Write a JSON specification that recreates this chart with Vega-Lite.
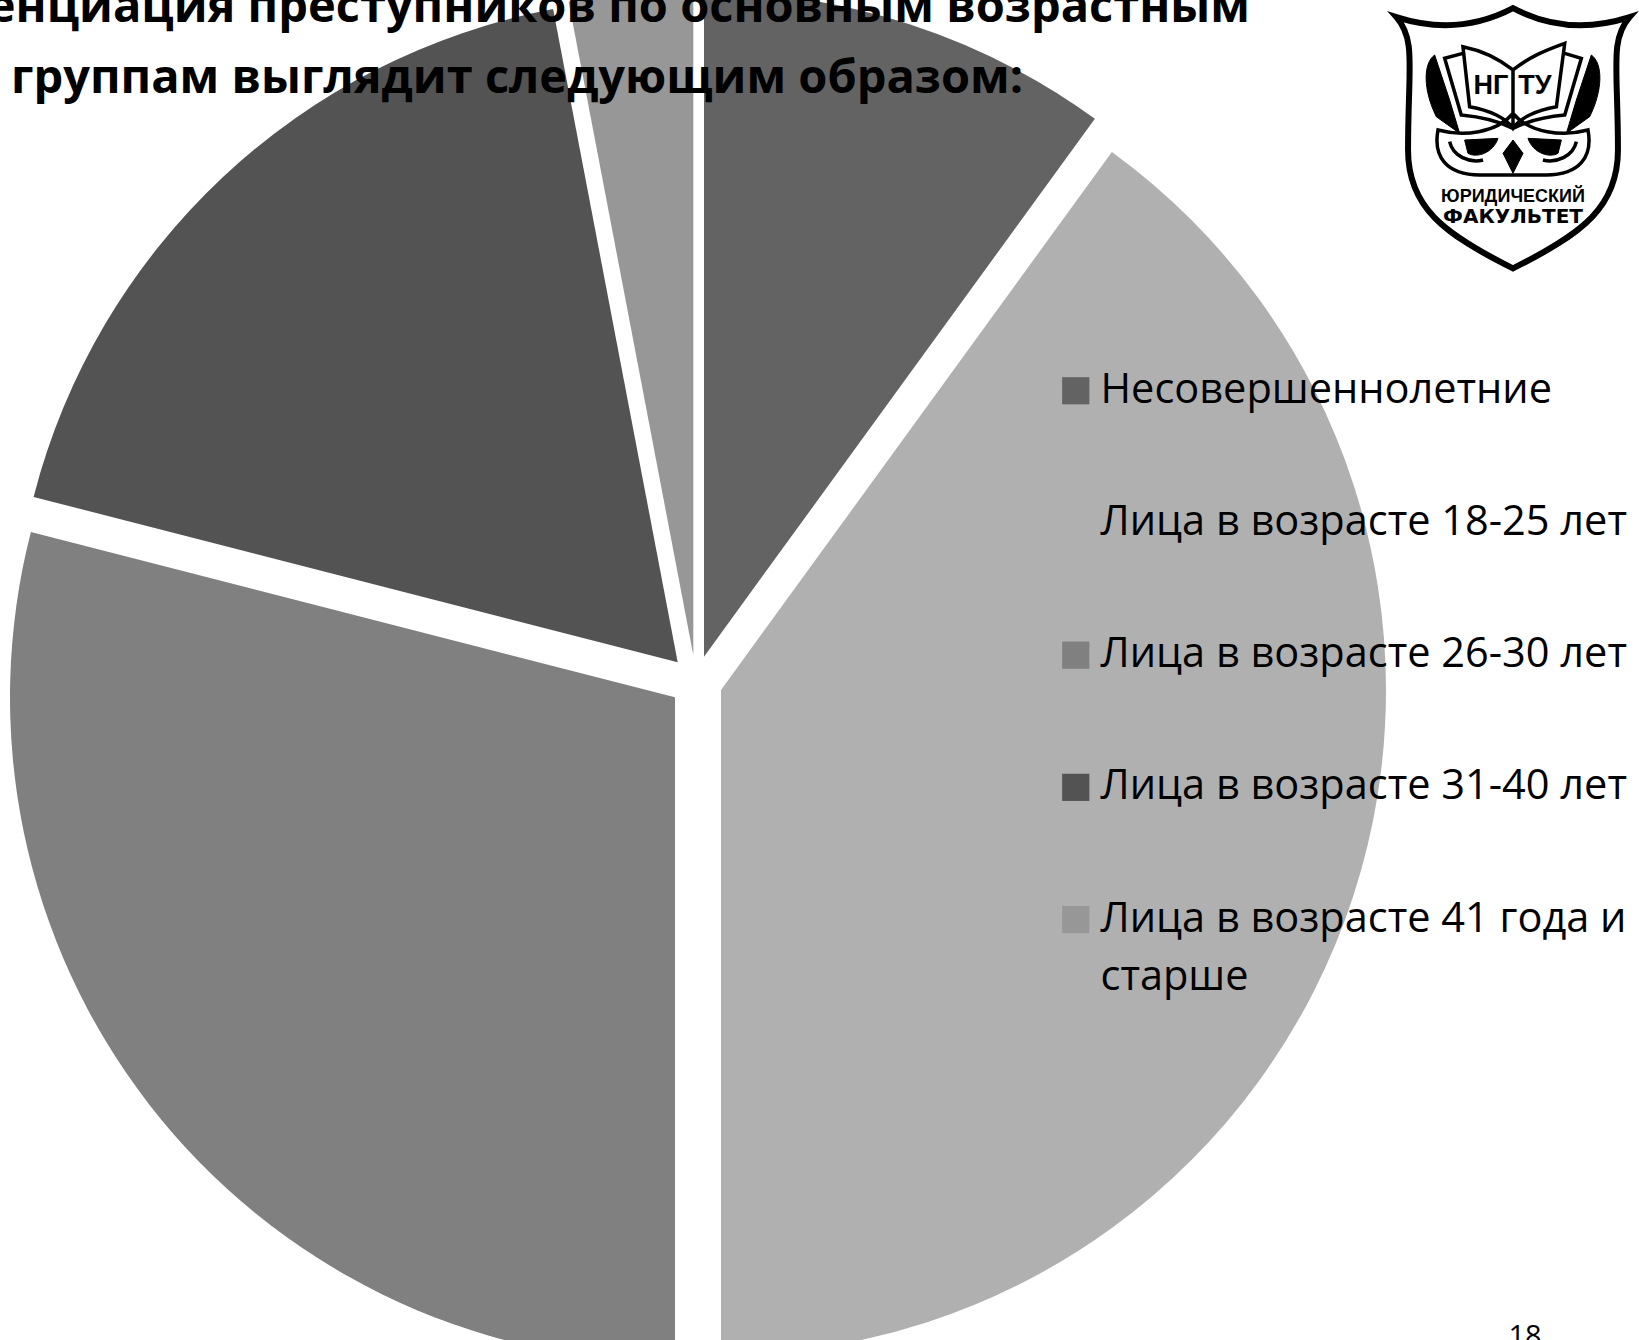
{"$schema":"https://vega.github.io/schema/vega-lite/v6.json","width":1639,"height":1340,"padding":0,"autosize":"none","background":"white","view":{"stroke":null},
"title":{"text":["Дифференциация преступников по основным возрастным","группам выглядит следующим образом:"],"anchor":"start","align":"center","baseline":"top","dx":517,"dy":113,"offset":0,"zindex":1,"font":"Open Sans","fontWeight":"bold","fontSize":47,"lineHeight":71,"color":"black"},
"data":{"values":[{"group":"Несовершеннолетние","share":10},{"group":"Лица в возрасте 18-25 лет","share":40},{"group":"Лица в возрасте 26-30 лет","share":29},{"group":"Лица в возрасте 31-40 лет","share":18},{"group":"Лица в возрасте 41 года и старше","share":3}]},
"transform":[{"stack":"share","as":["t0","t1"]}],
"layer":[
{"transform":[{"filter":"datum.group == 'Несовершеннолетние'"}],"mark":{"type":"arc","outerRadius":665,"xOffset":-115.5,"yOffset":-13.3},"encoding":{"theta":{"field":"t0","type":"quantitative","scale":{"domain":[0,100],"range":[0,6.283185]},"stack":null},"theta2":{"field":"t1"},"color":{"field":"group","type":"nominal","scale":{"domain":["Несовершеннолетние","Лица в возрасте 18-25 лет","Лица в возрасте 26-30 лет","Лица в возрасте 31-40 лет","Лица в возрасте 41 года и старше"],"range":["#636363","#b0b0b0","#808080","#535353","#979797"]},"legend":{"orient":"none","legendX":1055,"legendY":370,"title":null,"symbolType":"square","symbolSize":740,"symbolStrokeWidth":0,"labelFont":"Open Sans","labelFontSize":41.5,"labelColor":"black","labelLimit":620,"labelOffset":4,"rowPadding":89.2,"labelExpr":"datum.label == 'Лица в возрасте 41 года и старше' ? ['Лица в возрасте 41 года и','старше'] : datum.label","encode":{"labels":{"update":{"lineHeight":{"value":58}}}}}}}},
{"transform":[{"filter":"datum.group == 'Лица в возрасте 18-25 лет'"}],"mark":{"type":"arc","outerRadius":665,"xOffset":-98.5,"yOffset":20},"encoding":{"theta":{"field":"t0","type":"quantitative","scale":{"domain":[0,100],"range":[0,6.283185]},"stack":null},"theta2":{"field":"t1"},"color":{"field":"group","type":"nominal"}}},
{"transform":[{"filter":"datum.group == 'Лица в возрасте 26-30 лет'"}],"mark":{"type":"arc","outerRadius":665,"xOffset":-144.5,"yOffset":27.3},"encoding":{"theta":{"field":"t0","type":"quantitative","scale":{"domain":[0,100],"range":[0,6.283185]},"stack":null},"theta2":{"field":"t1"},"color":{"field":"group","type":"nominal"}}},
{"transform":[{"filter":"datum.group == 'Лица в возрасте 31-40 лет'"}],"mark":{"type":"arc","outerRadius":665,"xOffset":-141.8,"yOffset":-7.7},"encoding":{"theta":{"field":"t0","type":"quantitative","scale":{"domain":[0,100],"range":[0,6.283185]},"stack":null},"theta2":{"field":"t1"},"color":{"field":"group","type":"nominal"}}},
{"transform":[{"filter":"datum.group == 'Лица в возрасте 41 года и старше'"}],"mark":{"type":"arc","outerRadius":665,"xOffset":-126.2,"yOffset":-15},"encoding":{"theta":{"field":"t0","type":"quantitative","scale":{"domain":[0,100],"range":[0,6.283185]},"stack":null},"theta2":{"field":"t1"},"color":{"field":"group","type":"nominal"}}},
{"data":{"values":[{"label":"18"}]},"transform":[],"mark":{"type":"text","x":1525,"y":1323,"baseline":"top","align":"center","font":"Open Sans","fontSize":29,"color":"black"},"encoding":{"text":{"field":"label"}}},
{"data":{"values":[{"item":"shield"}]},"transform":[],"mark":{"type":"point","x":1513,"y":140,"filled":false,"fill":"white","fillOpacity":1,"stroke":"black","strokeWidth":6,"opacity":1,"size":65536,"shape":"M-.911,-.96 C-.599,-.86 -.286,-.88 0,-1.03 C.286,-.88 .599,-.86 .911,-.96 C.755,-.781 .82,-.573 .82,.078 C.82,.521 .547,.729 0,1.003 C-.547,.729 -.82,.521 -.82,.078 C-.82,-.573 -.755,-.781 -.911,-.96 Z"},"encoding":{}},
{"data":{"values":[{"item":"book"}]},"transform":[],"mark":{"type":"point","x":1513,"y":140,"filled":false,"stroke":"black","strokeWidth":3.5,"opacity":1,"size":65536,"shape":"M0,-.547 C-.13,-.651 -.26,-.703 -.391,-.729 L-.339,-.26 C-.182,-.234 -.052,-.169 0,-.091 C.052,-.169 .182,-.234 .339,-.26 L.404,-.755 C.26,-.703 .13,-.651 0,-.547 Z M0,-.547 L0,-.091 M-.391,-.677 L-.534,-.638 L-.404,-.195 C-.26,-.182 -.104,-.143 0,-.091 C.104,-.143 .26,-.182 .404,-.195 L.534,-.638 L.404,-.677 M-.586,-.078 C-.625,.130 -.521,.273 -.26,.273 L.26,.273 C.521,.273 .625,.130 .586,-.078 C.39,-.026 .13,-.052 0,-.208 C-.13,-.052 -.39,-.026 -.586,-.078 Z M-.495,.013 C-.469,.13 -.339,.182 -.234,.156 M.495,.013 C.469,.13 .339,.182 .234,.156"},"encoding":{}},
{"data":{"values":[{"item":"quills and eyes"}]},"transform":[],"mark":{"type":"point","x":1513,"y":140,"filled":true,"fill":"black","stroke":"black","strokeWidth":1,"opacity":1,"size":65536,"shape":"M-.612,-.664 C-.703,-.599 -.703,-.391 -.599,-.182 L-.417,-.052 L-.495,-.312 Z M.612,-.664 C.703,-.599 .703,-.391 .599,-.182 L.417,-.052 L.495,-.312 Z M-.378,0 L-.117,-.013 C-.156,.104 -.286,.143 -.352,.104 Z M.378,0 L.117,-.013 C.156,.104 .286,.143 .352,.104 Z M-.078,.104 L0,0 L.078,.104 L0,.26 Z"},"encoding":{}},
{"data":{"values":[{"label":"НГ"}]},"transform":[],"mark":{"type":"text","x":1491,"y":86,"align":"center","baseline":"middle","font":"Liberation Sans","fontWeight":"bold","fontSize":27,"color":"black"},"encoding":{"text":{"field":"label"}}},
{"data":{"values":[{"label":"ТУ"}]},"transform":[],"mark":{"type":"text","x":1535,"y":86,"align":"center","baseline":"middle","font":"Liberation Sans","fontWeight":"bold","fontSize":27,"color":"black"},"encoding":{"text":{"field":"label"}}},
{"data":{"values":[{"label":"ЮРИДИЧЕСКИЙ"}]},"transform":[],"mark":{"type":"text","x":1513,"y":197,"align":"center","baseline":"middle","font":"Liberation Sans","fontWeight":"bold","fontSize":18,"color":"black"},"encoding":{"text":{"field":"label"}}},
{"data":{"values":[{"label":"ФАКУЛЬТЕТ"}]},"transform":[],"mark":{"type":"text","x":1513,"y":217,"align":"center","baseline":"middle","font":"DejaVu Sans","fontWeight":"bold","fontSize":20,"color":"black"},"encoding":{"text":{"field":"label"}}}
]}
